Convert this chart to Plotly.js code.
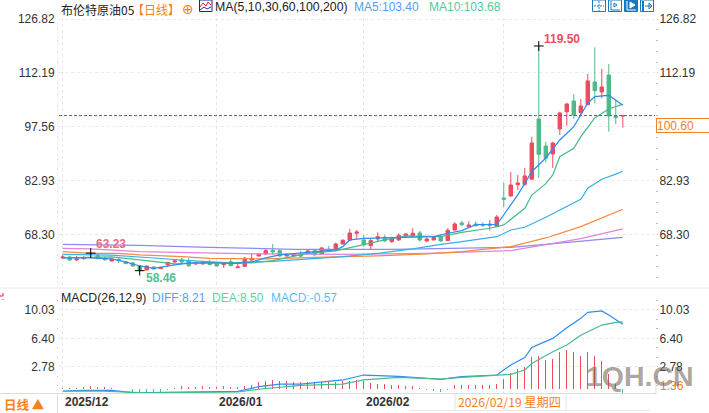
<!DOCTYPE html>
<html><head><meta charset="utf-8">
<script src="https://cdn.plot.ly/plotly-3.0.1.min.js"></script>
<style>html,body{margin:0;padding:0;background:#fff;overflow:hidden}</style></head>
<body><div id="chart" style="width:709px;height:413px"></div>
<script>
const opens=[61.99,62.18,61.36,61.72,62.99,62.53,61.63,61.09,61.5,60.90,
60.55,59.73,58.65,59.46,59.0,60.09,60.82,61.36,61.17,60.28,
60.28,60.63,60.28,60.09,60.90,59.27,59.65,61.36,62.45,62.99,
63.94,63.89,62.45,62.45,62.72,63.18,63.89,62.99,64.27,64.08,
65.71,66.72,68.62,66.8,65.25,67.07,67.53,66.34,66.8,67.88,
67.88,68.7,66.53,66.8,67.53,66.61,69.51,71.42,70.41,71.14,
71.06,70.79,70.41,78.21,78.75,81.82,81.93,83.29,99.67,92.33,
90.16,96.95,101.65,104.56,101.38,103.55,109.72,107.0,111.62,100.48,100.45];
const highs=[62.72,62.45,62.45,62.45,63.23,62.99,62.26,61.77,62.18,61.09,
60.82,59.87,59.8,59.6,59.46,60.82,61.36,61.91,61.83,60.82,
60.96,61.36,60.41,60.82,61.63,60.63,62.18,63.26,63.13,64.62,
65.71,64.27,63.26,63.13,63.81,64.08,64.27,64.9,65.17,66.06,
66.99,69.79,69.52,68.16,67.34,68.89,68.16,67.69,68.62,68.62,
69.98,69.24,67.42,67.88,68.35,69.98,71.6,71.96,71.88,71.88,
71.6,72.23,73.59,82.37,85.27,84.46,86.36,94.86,119.5,93.5,
93.5,101.65,104.01,106.46,105.1,111.9,119.15,113.25,114.61,105.1,100.7];
const lows=[61.63,61.09,61.09,61.5,62.72,61.63,61.17,60.96,60.55,60.28,
59.6,58.46,58.6,58.8,58.92,59.54,60.55,60.55,59.46,60.0,
60.14,60.0,59.6,59.19,59.73,59.19,59.46,61.09,62.26,62.72,
62.72,62.31,62.26,62.26,62.1,63.07,62.59,62.72,63.94,63.89,
65.63,66.66,67.07,64.98,64.35,66.34,66.17,66.06,66.61,67.8,
67.69,66.34,66.17,66.72,66.34,66.61,69.43,70.68,70.14,70.41,
70.33,69.32,70.41,75.68,78.56,80.38,81.47,83.29,83.64,87.8,
86.36,95.32,97.85,99.75,100.48,103.55,103.93,105.29,96.22,98.31,97.3];
const closes=[62.18,61.36,61.63,61.91,63.13,61.72,61.47,61.63,61.23,60.36,
59.73,58.46,59.73,58.92,59.33,60.74,61.09,60.82,59.81,60.63,
60.63,60.09,59.73,60.63,59.81,59.46,61.83,61.72,62.99,63.89,
63.54,62.45,62.72,62.91,62.45,63.81,62.72,64.62,64.08,65.71,
66.72,68.7,68.97,65.52,66.61,67.69,66.61,67.26,68.07,68.43,
68.62,66.8,67.07,67.53,66.53,69.43,71.14,70.95,70.87,70.68,
70.79,71.06,73.05,77.86,81.74,82.28,84.19,93.15,90.08,88.99,
93.15,101.3,103.74,100.76,103.2,110.0,107.36,108.36,100.48,100.02,100.60];

const ma5Idx=[0,4,7,9,11,13,16,18,21,25,27,29,31,34,39,40,41,43,46,51,53,55,57,59,62,63,65,67,69,71,73,75,76,78,80];
const ma5Val=[61.91,61.91,61.63,60.82,59.73,59.05,60.0,60.55,60.55,60.41,60.82,61.91,62.72,63.26,64.08,64.98,66.8,67.26,67.42,67.69,67.69,68.62,69.32,70.95,71.06,73.65,79.07,85.35,89.07,93.96,97.57,104.01,105.73,106.11,103.40];
const ma10Idx=[0,7,11,16,21,27,30,33,35,39,42,46,49,54,57,61,63,66,67,69,70,71,73,74,76,78,80];
const ma10Val=[61.91,62.18,61.36,60.28,60.55,60.55,61.17,62.26,63.18,63.81,65.17,66.8,67.88,67.69,68.89,69.98,70.87,75.4,79.0,82.1,84.46,89.42,91.7,94.86,99.94,102.39,103.68];
const ma30Idx=[0,7,13,18,24,30,40,45,50,54,57,60,62,64,66,69,71,74,75,77,79,80];
const ma30Val=[62.9,62.7,61.9,61.2,60.6,61.0,62.26,63.18,64.35,65.63,66.34,67.07,67.69,69.51,70.25,72.96,74.9,77.86,80.84,83.29,84.7,85.46];
const ma60Idx=[0,4,8,11,17,21,29,36,45,52,57,61,64,69,74,80];
const ma60Val=[63.62,63.18,63.18,62.72,62.26,61.83,61.63,62.1,62.45,62.99,63.62,64.35,64.98,67.34,70.41,75.14];
const ma100Idx=[0,4,11,23,28,40,52,64,69,74,80];
const ma100Val=[64.54,64.35,63.62,63.18,62.99,62.91,63.18,63.89,65.44,67.15,69.79];
const ma200Idx=[0,11,21,33,47,60,64,69,74,79,80];
const ma200Val=[65.63,65.36,64.81,64.27,64.27,64.54,64.81,65.63,66.53,67.53,67.53];

const macdBars=[.1,.1,.1,.15,.38,.25,.2,.1,-.05,-.1,
-.43,-.4,-.4,-.5,-.4,-.15,.05,.38,.25,.25,
.38,.25,.25,.3,.25,.25,.38,.5,.85,1.0,
1.1,.95,.95,.85,.8,.8,.8,.85,.95,.85,
.95,1.0,1.1,.9,.7,.6,.55,.4,.4,.38,
.3,.1,-.2,-.34,-.45,-.2,.43,.5,.5,.5,
.4,.4,.55,1.15,2.0,2.43,2.75,4.0,4.1,3.7,
3.75,4.6,4.95,4.6,4.2,4.6,4.15,3.55,1.9,.6,-.57];
const diffIdx=[0,3,7,10,12,16,19,21,25,28,31,34,36,40,43,48,54,57,62,64,66,67,70,72,74,75,77,78,80];
const diffVal=[-.32,-.23,-.23,-.53,-.53,-.45,-.45,-.36,-.36,.23,.57,.57,.74,1.09,1.72,1.56,1.17,1.51,1.72,3.0,3.94,5.25,6.4,7.77,8.96,9.73,9.9,9.4,8.21];
const deaIdx=[0,5,12,19,25,29,34,40,43,48,54,57,62,64,66,67,70,72,74,77,79,80];
const deaVal=[-.35,-.32,-.57,-.49,-.45,0,.4,.57,1.09,1.43,1.21,1.43,1.64,1.81,2.36,3.2,4.7,5.55,6.8,8.1,8.45,8.5];

const priceTicks=[126.82,112.19,97.56,82.93,68.30];
const priceTicksRight=[126.82,112.19,82.93,68.30];
const macdTicks=[10.03,6.40,2.78];
const monthIdx=[0,22,43,63];
const monthLabels=['2025/12','2026/01','2026/02'];
const lastPrice=100.60;
const idx=closes.map((_,i)=>i);

const W=709,H=413;
const RED='#ee4b5e',GREEN='#50b98a';
const xr=[-0.53,84.6];
const dom=[59/W,655/W];
const fx=x=>x/W, fy=y=>1-y/H;

function ma(x,y,color,yaxis){return {type:'scatter',mode:'lines',x:x,y:y,xaxis:'x',yaxis:yaxis||'y3',line:{color:color,width:1.25},hoverinfo:'skip',showlegend:false};}
const traces=[
 {type:'candlestick',x:idx,open:opens,high:highs,low:lows,close:closes,xaxis:'x',yaxis:'y',whiskerwidth:0,
  increasing:{line:{color:RED,width:1},fillcolor:RED},decreasing:{line:{color:GREEN,width:1},fillcolor:GREEN},hoverinfo:'skip',showlegend:false},
 ma(ma200Idx,ma200Val,'#8d8bf3'),ma(ma100Idx,ma100Val,'#e085db'),ma(ma60Idx,ma60Val,'#f58b3f'),
 ma(ma30Idx,ma30Val,'#36b1e8'),ma(ma10Idx,ma10Val,'#45bd88'),ma(ma5Idx,ma5Val,'#2f8cf0'),
 {type:'scatter',mode:'markers',x:[4,11,68],y:[highs[4],lows[11],highs[68]],xaxis:'x',yaxis:'y3',marker:{symbol:'cross-thin',size:7,line:{color:'#000',width:1}},hoverinfo:'skip',showlegend:false},
 {type:'bar',x:idx,y:macdBars,xaxis:'x2',yaxis:'y2',width:0.17,marker:{color:macdBars.map(v=>v<0?GREEN:RED),line:{width:0}},hoverinfo:'skip',showlegend:false},
 {type:'scatter',mode:'lines',x:diffIdx,y:diffVal,xaxis:'x2',yaxis:'y4',line:{color:'#2f8cf0',width:1.2},hoverinfo:'skip',showlegend:false},
 {type:'scatter',mode:'lines',x:deaIdx,y:deaVal,xaxis:'x2',yaxis:'y4',line:{color:'#45bd88',width:1.2},hoverinfo:'skip',showlegend:false}
];
const tf={family:'Liberation Sans, Arial, sans-serif',size:12,color:'#333'};
const CJK='"Noto Sans CJK SC", sans-serif', LAT='Liberation Sans, Arial, sans-serif';
function xaxis(anchor){return {domain:dom,range:xr,anchor:anchor,tickmode:'array',tickvals:monthIdx,showticklabels:false,ticks:'',showgrid:true,gridcolor:'#e6e6e6',griddash:'dot',gridwidth:1,zeroline:false,showline:false,rangeslider:{visible:false},fixedrange:true};}
function yaxis(ticks,range,d,side,over,anchor,grid,dt,t0){const a={domain:d,range:range,side:side,anchor:anchor,tickmode:'array',tickvals:ticks,ticktext:ticks.map(v=>v.toFixed(2)),tickfont:tf,ticks:'outside',ticklen:1,tickcolor:'#fff',showgrid:grid,gridcolor:'#e9e9e9',griddash:'dot',zeroline:false,showline:false,fixedrange:true,
  minor:{ticks:'outside',ticklen:1.5,tickcolor:'#bbb',dtick:dt,tick0:t0,showgrid:false}};
 if(over)a.overlaying=over;return a;}
const pd=[fy(288),fy(18)], md=[fy(393.5),fy(295)];
const pr=[53.75,127.1], mr=[-.639,11.94];

function note(text,x,y,color,size,extra){return Object.assign({xref:'paper',yref:'paper',x:fx(x),y:fy(y),xanchor:'left',yanchor:'middle',showarrow:false,text:text,borderpad:0,font:{family:LAT,size:size||12,color:color||'#222'}},extra||{});}
function cjk(text,x,y,color,size,bold){return note(bold?'<b>'+text+'</b>':text,x,y,color,size,{font:{family:CJK,size:size||12,color:color}});}
const anns=[
 cjk('布伦特原油05',60,9,'#222',12),
 cjk('【日线】',131,9,'#f58220',12),
 note('⊕',181,9,'#f58220',13,{font:{family:'DejaVu Sans',size:14,color:'#f58220'}}),
 note('MA(5,10,30,60,100,200)',214,7,'#222',12.3),
 note('MA5:103.40',353,7,'#4d9ff5',12),
 note('MA10:103.68',428,7,'#55c99b',12),
 note('MACD(26,12,9)',60,298,'#222',12.3),
 note('DIFF:8.21',151,298,'#5b9cf5',12),
 note('DEA:8.50',211,298,'#62cf9f',12),
 note('MACD:-0.57',270,298,'#5cbcf0',12),
 {xref:'x',yref:'y3',x:68,y:highs[68],xanchor:'left',yanchor:'middle',showarrow:false,xshift:4,yshift:7,borderpad:0,text:'<b>'+highs[68].toFixed(2)+'</b>',font:{family:LAT,size:12,color:RED}},
 {xref:'x',yref:'y3',x:4,y:highs[4],xanchor:'left',yanchor:'middle',showarrow:false,xshift:4,yshift:9,borderpad:0,text:'<b>'+highs[4].toFixed(2)+'</b>',font:{family:LAT,size:12,color:'#ee6a80'}},
 {xref:'x',yref:'y3',x:11,y:lows[11],xanchor:'left',yanchor:'middle',showarrow:false,xshift:5,yshift:-7,borderpad:0,text:'<b>'+lows[11].toFixed(2)+'</b>',font:{family:LAT,size:12,color:'#55c08f'}},
 {xref:'paper',yref:'paper',x:fx(656),y:fy(125),xanchor:'left',yanchor:'middle',showarrow:false,text:lastPrice.toFixed(2),align:'left',width:52,height:13,borderpad:0,bordercolor:'#f58220',borderwidth:1,bgcolor:'#fff',font:{family:LAT,size:12,color:'#f58220'}},
 note('<b>'+monthLabels[0]+'</b>',64,402,'#333',12),
 note('<b>'+monthLabels[1]+'</b>',218,402,'#333',12),
 note('<b>'+monthLabels[2]+'</b>',365,402,'#333',12),
 cjk('2026/02/19 星期四',457,402,'#f58220',12.2),
 cjk('日线 ▲',3,404,'#f58220',12.5,true),
 note('1.36',659,386,'#f58220',12),
 note('<b>1QH.CN</b>',585,376,'rgba(112,98,88,.58)',28.5,{font:{family:LAT,size:28.5,color:'rgba(112,98,88,.58)'}})
];
function ln(x0,y0,x1,y1,color,extra){return Object.assign({type:'line',xref:'paper',yref:'paper',x0:fx(x0),y0:fy(y0),x1:fx(x1),y1:fy(y1),line:{color:color,width:1}},extra||{});}
function pathPx(pts){return pts.map((p,i)=>(i?'L':'M')+fx(p[0])+','+fy(p[1])).join(' ');}
function box(x,filled){const c='#1878c0';return {type:'rect',xref:'paper',yref:'paper',x0:fx(x),x1:fx(x+13),y0:fy(0),y1:fy(11.5),line:{color:c,width:1},fillcolor:filled?c:'#fff'};}
const shapes=[
 {type:'line',xref:'x',yref:'y3',x0:xr[0],x1:xr[1],y0:lastPrice,y1:lastPrice,line:{color:'#1f6fd0',width:1,dash:'3px,2px'}},
 ln(0,288,709,288,'#e8e8e8'),
 ln(0,393.5,656,393.5,'#dcdcdc'),
 ln(57.5,393.5,57.5,413,'#dcdcdc'),
 ln(58,20,58,290,'#f0f0f0'),
 ln(656,376,656,393.5,'#dcdcdc'),
 ln(455,393.5,455,410,'#e4e4e4'),
 ln(566,393.5,566,410,'#e4e4e4'),
 ln(410,410.5,650,410.5,'#e8e8e8'),
 ln(0,296,3,296,'#e02020',{line:{color:'#e02020',width:1,dash:'dot'}}),
 ln(3,293,3,300,'#e02020',{line:{color:'#e02020',width:1,dash:'dot'}}),
 {type:'rect',xref:'paper',yref:'paper',x0:fx(199.5),x1:fx(212),y0:fy(0),y1:fy(11.5),line:{color:'#1a2a80',width:1},fillcolor:'#fff'},
 {type:'path',xref:'paper',yref:'paper',path:pathPx([[200,7],[203,3],[206,6],[208,2],[211,5]]),line:{color:'#e02030',width:1}},
 {type:'path',xref:'paper',yref:'paper',path:pathPx([[200,10],[204,7],[207,9],[211,7]]),line:{color:'#1a2ad0',width:1}},
 box(592.5,false),box(608.5,false),box(624.5,true),box(640.5,false),
 ln(599,1,599,11,'#1878c0',{line:{color:'#1878c0',width:1,dash:'2px,1px'}}),
 ln(594,6,604,6,'#1878c0',{line:{color:'#1878c0',width:1,dash:'2px,1px'}}),
 {type:'path',xref:'paper',yref:'paper',path:pathPx([[611,1],[611,10],[620,10]]),line:{color:'#1878c0',width:1}},
 {type:'path',xref:'paper',yref:'paper',path:pathPx([[614,3],[614,7],[617,5],[614,3]]),line:{color:'#1878c0',width:1}},
 {type:'path',xref:'paper',yref:'paper',path:pathPx([[627,1],[627,10],[636,10]]),line:{color:'#fff',width:1}},
 {type:'path',xref:'paper',yref:'paper',path:pathPx([[630,2],[630,8],[635,5],[630,2]]),line:{color:'#fff',width:1},fillcolor:'#fff'},
 {type:'path',xref:'paper',yref:'paper',path:pathPx([[643,1],[643,11]]),line:{color:'#1878c0',width:2}},
 {type:'path',xref:'paper',yref:'paper',path:pathPx([[645,6],[652,6],[649,3],[649,9],[652,6]]),line:{color:'#1878c0',width:1}}
];
const layout={width:W,height:H,margin:{l:0,r:0,t:0,b:0},paper_bgcolor:'#fff',plot_bgcolor:'rgba(0,0,0,0)',showlegend:false,bargap:0,
 xaxis:xaxis('y'),xaxis2:xaxis('y2'),
 yaxis:yaxis(priceTicks,pr,pd,'left',null,'x',true,2.926,126.82),
 yaxis3:yaxis(priceTicksRight,pr,pd,'right','y','x',false,2.926,126.82),
 yaxis2:yaxis(macdTicks,mr,md,'left',null,'x2',true,1.21,10.03),
 yaxis4:yaxis(macdTicks,mr,md,'right','y2','x2',false,1.21,10.03),
 annotations:anns,shapes:shapes};
Plotly.newPlot('chart',traces,layout,{staticPlot:true,displayModeBar:false,responsive:false});
</script></body></html>
